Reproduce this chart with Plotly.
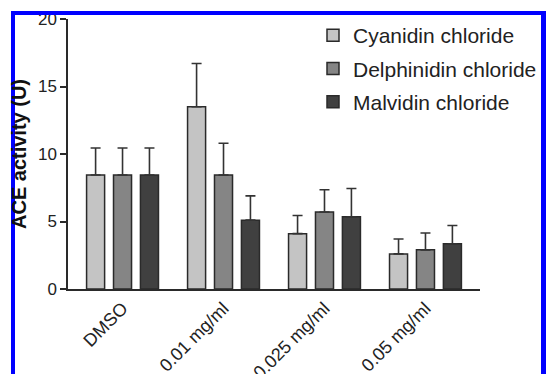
import plotly.graph_objects as go

categories = ["DMSO", "0.01 mg/ml", "0.025 mg/ml", "0.05 mg/ml"]
series_names = ["Cyanidin chloride", "Delphinidin chloride", "Malvidin chloride"]
cyanidin = [8.45, 13.5, 4.1, 2.6]
cyanidin_err = [2.0, 3.2, 1.35, 1.1]
delphinidin = [8.45, 8.45, 5.7, 2.9]
delphinidin_err = [2.0, 2.35, 1.65, 1.25]
malvidin = [8.45, 5.1, 5.35, 3.35]
malvidin_err = [2.0, 1.8, 2.1, 1.35]
y_ticks = [0, 5, 10, 15, 20]

colors = ["#c4c4c4", "#858585", "#404040"]
values = [cyanidin, delphinidin, malvidin]
errors = [cyanidin_err, delphinidin_err, malvidin_err]

W, H = 548, 374
L, R, T, B = 68, 68, 19, 85
pw, ph = W - L - R, H - T - B

fig = go.Figure()
for i, name in enumerate(series_names):
    fig.add_trace(go.Bar(
        x=categories, y=values[i], name=name, legendgroup=name,
        marker=dict(color=colors[i], line=dict(color="#2a2a2a", width=1.5)),
        error_y=dict(type="data", array=errors[i], arrayminus=[0] * len(errors[i]),
                     symmetric=False, thickness=1.6, width=5, color="#333333"),
    ))

def px_x(p):
    return (p - L) / pw

def px_y(p):
    return (H - B - p) / ph

blue = "#0000ff"
shapes = [
    dict(type="rect", xref="paper", yref="paper", x0=px_x(11), x1=px_x(546),
         y0=px_y(15), y1=px_y(11), fillcolor=blue, line=dict(width=0), layer="above"),
    dict(type="rect", xref="paper", yref="paper", x0=px_x(11), x1=px_x(15),
         y0=px_y(380), y1=px_y(11), fillcolor=blue, line=dict(width=0), layer="above"),
    dict(type="rect", xref="paper", yref="paper", x0=px_x(541), x1=px_x(546),
         y0=px_y(380), y1=px_y(11), fillcolor=blue, line=dict(width=0), layer="above"),
]

fig.update_layout(
    width=W, height=H,
    margin=dict(l=L, r=R, t=T, b=B, autoexpand=False),
    paper_bgcolor="white", plot_bgcolor="white",
    barmode="group", bargap=0.2, bargroupgap=0.33,
    font=dict(family="Liberation Sans, Arial, sans-serif", color="#222222"),
    showlegend=True,
    legend=dict(x=px_x(313), y=px_y(15), xanchor="left", yanchor="top",
                font=dict(size=21, color="#222222"), tracegroupgap=3,
                bgcolor="rgba(0,0,0,0)"),
    shapes=shapes,
    xaxis=dict(range=[-0.54, 3.54], showline=True, linecolor="#2a2a2a", linewidth=1.5,
               ticks="", tickangle=-45, tickfont=dict(size=18, color="#222222"),
               showgrid=False, zeroline=False),
    yaxis=dict(range=[0, 20], tickvals=y_ticks, showline=True, linecolor="#2a2a2a",
               linewidth=1.5, ticks="outside", ticklen=6, tickwidth=1.5, tickcolor="#2a2a2a",
               tickfont=dict(size=17, color="#222222"), showgrid=False, zeroline=False,
               title=dict(text="<b>ACE activity (U)</b>", font=dict(size=20, color="#111111"),
                          standoff=6)),
)

fig.write_html("out.html", config={"displayModeBar": False},
               post_script="document.body.style.margin='0';document.body.style.overflow='hidden';")
